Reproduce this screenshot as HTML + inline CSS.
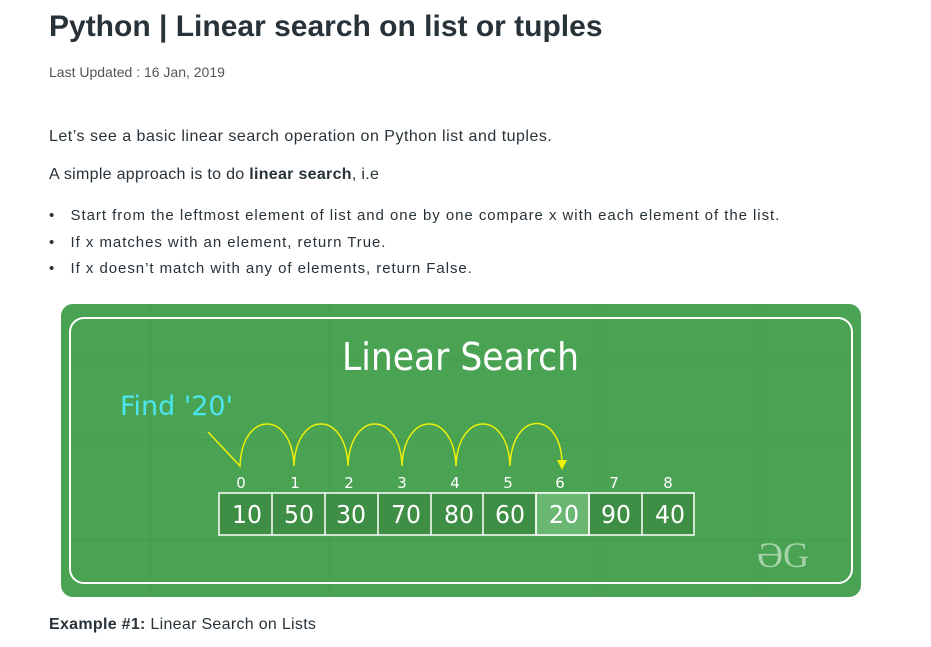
<!DOCTYPE html>
<html><head><meta charset="utf-8"><style>
body{margin:0;background:#fff;width:931px;height:647px;overflow:hidden;font-family:"Liberation Sans",sans-serif;color:#273239;position:relative}
.a{position:absolute;white-space:nowrap}
</style></head><body>
<div class="a" style="left:49px;top:10px;font-size:30px;font-weight:bold;color:#273239;letter-spacing:0px">Python | Linear search on list or tuples</div>
<div class="a" style="left:49px;top:64px;font-size:14px;color:#555">Last Updated : 16 Jan, 2019</div>
<div class="a" style="left:49px;top:128px;font-size:16px;letter-spacing:0.5px">Let’s see a basic linear search operation on Python list and tuples.</div>
<div class="a" style="left:49px;top:166px;font-size:16px;letter-spacing:0.3px">A simple approach is to do <b>linear search</b>, i.e</div>
<div class="a" style="left:49px;top:203px;font-size:15px;line-height:26.5px;letter-spacing:0.95px">
<div>• &nbsp;&nbsp;Start from the leftmost element of list and one by one compare x with each element of the list.</div>
<div>• &nbsp;&nbsp;If x matches with an element, return True.</div>
<div>• &nbsp;&nbsp;If x doesn’t match with any of elements, return False.</div></div>
<svg class="a" style="left:0;top:0" width="931" height="647">
<rect x="61" y="304" width="800" height="293" rx="12" fill="#4aa352"/>
<g stroke="#3f9548" stroke-width="1" opacity="0.6">
<line x1="61" y1="360" x2="861" y2="360"/><line x1="61" y1="440" x2="861" y2="440"/><line x1="61" y1="540" x2="861" y2="540"/>
<line x1="150" y1="304" x2="150" y2="597"/><line x1="330" y1="304" x2="330" y2="597"/><line x1="600" y1="304" x2="600" y2="597"/><line x1="760" y1="304" x2="760" y2="597"/>
</g>
<rect x="70" y="318" width="782" height="265" rx="14" fill="none" stroke="#fff" stroke-width="2"/>
<text x="342" y="370" font-size="38" fill="#fff" textLength="237" lengthAdjust="spacingAndGlyphs" font-family="DejaVu Sans,sans-serif">Linear Search</text>
<text x="120" y="415" font-size="27" fill="#4de5f0" textLength="113" lengthAdjust="spacingAndGlyphs" font-family="DejaVu Sans,sans-serif">Find '20'</text>
<path d="M208 432 L240 466 C242 410 292 410 294 466 C296 410 346 410 348 466 C350 410 400 410 402 466 C404 410 454 410 456 466 C458 410 508 410 510 466 C512 410 560 410 562 462" fill="none" stroke="#eef00a" stroke-width="1.5"/>
<path d="M557 460 L567 460 L562 470 Z" fill="#eef00a"/>
<g font-size="15" fill="#fff" text-anchor="middle" font-family="DejaVu Sans,sans-serif">
<text x="241" y="488">0</text><text x="295" y="488">1</text><text x="349" y="488">2</text><text x="402" y="488">3</text><text x="455" y="488">4</text><text x="508" y="488">5</text><text x="560" y="488">6</text><text x="614" y="488">7</text><text x="668" y="488">8</text>
</g>
<g stroke="#fff" stroke-width="1.5">
<rect x="219" y="493" width="475" height="42" fill="#3e8f45"/>
<rect x="536" y="493" width="53" height="42" fill="#6ab772"/>
<line x1="272" y1="493" x2="272" y2="535"/><line x1="325" y1="493" x2="325" y2="535"/><line x1="378" y1="493" x2="378" y2="535"/><line x1="431" y1="493" x2="431" y2="535"/><line x1="483" y1="493" x2="483" y2="535"/><line x1="536" y1="493" x2="536" y2="535"/><line x1="589" y1="493" x2="589" y2="535"/><line x1="642" y1="493" x2="642" y2="535"/>
</g>
<g font-size="25" fill="#fff" text-anchor="middle" font-family="DejaVu Sans,sans-serif">
<text x="247" y="523" textLength="30" lengthAdjust="spacingAndGlyphs">10</text><text x="299" y="523" textLength="30" lengthAdjust="spacingAndGlyphs">50</text><text x="351" y="523" textLength="30" lengthAdjust="spacingAndGlyphs">30</text><text x="406" y="523" textLength="30" lengthAdjust="spacingAndGlyphs">70</text><text x="459" y="523" textLength="30" lengthAdjust="spacingAndGlyphs">80</text><text x="510" y="523" textLength="30" lengthAdjust="spacingAndGlyphs">60</text><text x="564" y="523" textLength="30" lengthAdjust="spacingAndGlyphs">20</text><text x="616" y="523" textLength="30" lengthAdjust="spacingAndGlyphs">90</text><text x="670" y="523" textLength="30" lengthAdjust="spacingAndGlyphs">40</text>
</g>
<text x="783" y="567" font-size="36" fill="#a6d3a9" text-anchor="middle" font-family="Liberation Serif,serif">ƏG</text>
</svg>
<div class="a" style="left:49px;top:616px;font-size:16px;letter-spacing:0.3px"><b>Example #1:</b> Linear Search on Lists</div>
</body></html>
